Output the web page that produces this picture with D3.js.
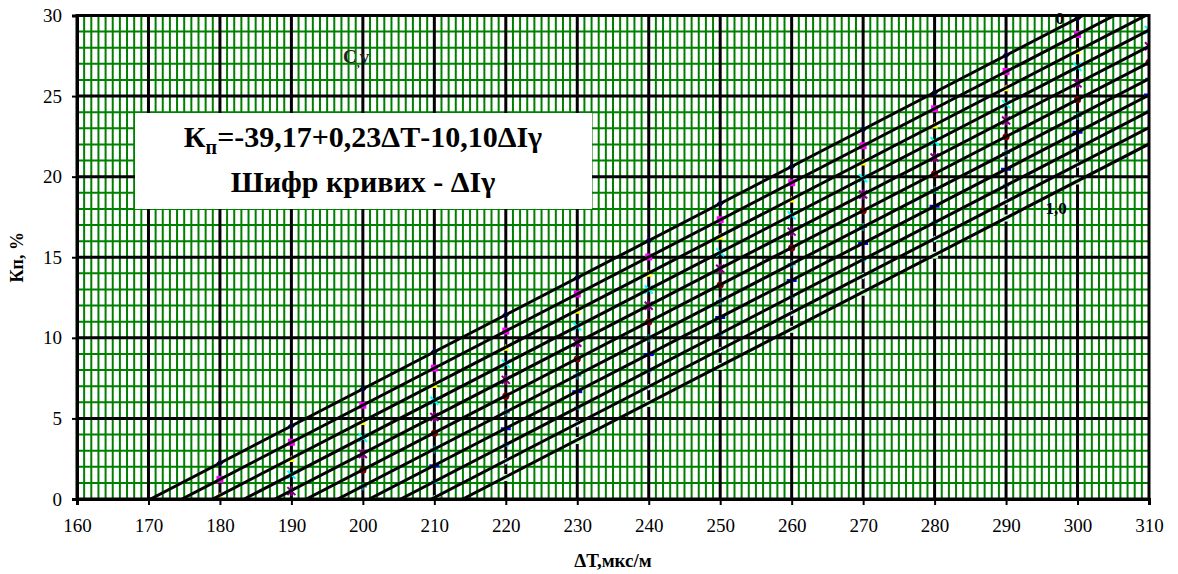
<!DOCTYPE html>
<html>
<head>
<meta charset="utf-8">
<script src="https://cdn.jsdelivr.net/npm/d3@7/dist/d3.min.js"></script>
<style>
  html, body { margin: 0; padding: 0; background: #fff; }
  svg { display: block; }
  svg text { font-family: 'Liberation Serif', 'Times New Roman', 'DejaVu Serif', serif; }
</style>
</head>
<body>
<svg id="chart" width="1178" height="574"></svg>
<script>
// Kп vs ΔT nomogram, one line per ΔIγ value

var curveNames = ['0', '0,1', '0,2', '0,3', '0,4', '0,5', '0,6', '0,7', '0,8', '0,9', '1,0'];
var xTicks = [160, 170, 180, 190, 200, 210, 220, 230, 240, 250, 260, 270, 280, 290, 300, 310];
var yTicks = [0, 5, 10, 15, 20, 25, 30];
var markerX = [180, 190, 200, 210, 220, 230, 240, 250, 260, 270, 280, 290, 300, 310];

// Kп values at markerX for each curve
var curveValues = [
  [2.23, 4.53, 6.83, 9.13, 11.43, 13.73, 16.03, 18.33, 20.63, 22.93, 25.23, 27.53, 29.83, 32.13],
  [1.22, 3.52, 5.82, 8.12, 10.42, 12.72, 15.02, 17.32, 19.62, 21.92, 24.22, 26.52, 28.82, 31.12],
  [0.21, 2.51, 4.81, 7.11, 9.41, 11.71, 14.01, 16.31, 18.61, 20.91, 23.21, 25.51, 27.81, 30.11],
  [-0.80, 1.50, 3.80, 6.10, 8.40, 10.70, 13.00, 15.30, 17.60, 19.90, 22.20, 24.50, 26.80, 29.10],
  [-1.81, 0.49, 2.79, 5.09, 7.39, 9.69, 11.99, 14.29, 16.59, 18.89, 21.19, 23.49, 25.79, 28.09],
  [-2.82, -0.52, 1.78, 4.08, 6.38, 8.68, 10.98, 13.28, 15.58, 17.88, 20.18, 22.48, 24.78, 27.08],
  [-3.83, -1.53, 0.77, 3.07, 5.37, 7.67, 9.97, 12.27, 14.57, 16.87, 19.17, 21.47, 23.77, 26.07],
  [-4.84, -2.54, -0.24, 2.06, 4.36, 6.66, 8.96, 11.26, 13.56, 15.86, 18.16, 20.46, 22.76, 25.06],
  [-5.85, -3.55, -1.25, 1.05, 3.35, 5.65, 7.95, 10.25, 12.55, 14.85, 17.15, 19.45, 21.75, 24.05],
  [-6.86, -4.56, -2.26, 0.04, 2.34, 4.64, 6.94, 9.24, 11.54, 13.84, 16.14, 18.44, 20.74, 23.04],
  [-7.87, -5.57, -3.27, -0.97, 1.33, 3.63, 5.93, 8.23, 10.53, 12.83, 15.13, 17.43, 19.73, 22.03]
];
// ΔT where each line crosses Kп = 0
var zeroCrossing = [170.3, 174.7, 179.0, 183.4, 187.7, 192.1, 196.5, 200.9, 205.3, 209.6, 214.0];

var markerColors = ['#000080', '#FF00FF', '#FFFF00', '#00FFFF', '#800080', '#800000',
                    '#008080', '#0000FF', '#00CCFF', '#CCFFFF', '#CCFFCC'];
var markerShapes = ['diamond', 'square', 'triangle', 'x', 'star', 'circle',
                    'plus', 'dash', 'shortdash', 'diamond', 'square'];

var SERIF = "'Liberation Serif', 'Times New Roman', 'DejaVu Serif', serif";
var L = 77, R = 1149, T = 15.5, B = 499;

var svg = d3.select('#chart');
var x = d3.scaleLinear().domain([160, 310]).range([L, R]);
var y = d3.scaleLinear().domain([0, 30]).range([B, T]);

svg.append('defs').append('clipPath').attr('id', 'plotClip')
  .append('rect').attr('x', L).attr('y', T).attr('width', R - L).attr('height', B - T);

// plot background
svg.append('rect').attr('x', L).attr('y', T).attr('width', R - L).attr('height', B - T)
  .attr('fill', '#fff');

var grid = svg.append('g');

// minor grid (green), every 1 unit
var minorX = d3.range(161, 310, 1).filter(function(v){ return v % 10 !== 0; });
var minorY = d3.range(1, 30, 1).filter(function(v){ return v % 5 !== 0; });
grid.selectAll('.mx').data(minorX).enter().append('line')
  .attr('x1', function(d){ return x(d); }).attr('x2', function(d){ return x(d); })
  .attr('y1', T).attr('y2', B)
  .attr('stroke', '#008000').attr('stroke-width', 2);
grid.selectAll('.my').data(minorY).enter().append('line')
  .attr('y1', function(d){ return y(d); }).attr('y2', function(d){ return y(d); })
  .attr('x1', L).attr('x2', R)
  .attr('stroke', '#008000').attr('stroke-width', 2);

// major grid (black)
grid.selectAll('.Mx').data(xTicks.slice(1, -1)).enter().append('line')
  .attr('x1', function(d){ return x(d); }).attr('x2', function(d){ return x(d); })
  .attr('y1', T).attr('y2', B)
  .attr('stroke', '#000').attr('stroke-width', 3);
grid.selectAll('.My').data(yTicks.slice(1, -1)).enter().append('line')
  .attr('y1', function(d){ return y(d); }).attr('y2', function(d){ return y(d); })
  .attr('x1', L).attr('x2', R)
  .attr('stroke', '#000').attr('stroke-width', 3);

// markers
function markerPath(shape){
  var s = 3.5;
  switch(shape){
    case 'diamond': return 'M0,' + (-s) + 'L' + s + ',0L0,' + s + 'L' + (-s) + ',0Z';
    case 'square': return 'M' + (-s) + ',' + (-s) + 'h' + (2 * s) + 'v' + (2 * s) + 'h' + (-2 * s) + 'Z';
    case 'triangle': return 'M0,' + (-s) + 'L' + s + ',' + s + 'L' + (-s) + ',' + s + 'Z';
    case 'circle': return d3.symbol().type(d3.symbolCircle).size(40)();
    default: return '';
  }
}

var markerG = svg.append('g').attr('clip-path', 'url(#plotClip)');
curveValues.forEach(function(vals, k){
  var pts = markerX.map(function(xv, i){ return { x: xv, y: vals[i] }; })
    .filter(function(p){ return p.y >= 0 && p.y <= 30; });
  var shape = markerShapes[k], col = markerColors[k];
  var g = markerG.append('g');
  var sel = g.selectAll('g').data(pts).enter().append('g')
    .attr('transform', function(p){ return 'translate(' + x(p.x) + ',' + y(p.y) + ')'; });
  if(shape === 'x' || shape === 'star'){
    sel.append('path').attr('d', 'M-4,-4L4,4M-4,4L4,-4' + (shape === 'star' ? 'M0,-5V5' : ''))
      .attr('stroke', col).attr('stroke-width', 2).attr('fill', 'none');
  } else if(shape === 'plus'){
    sel.append('path').attr('d', 'M-4,0H4M0,-4V4')
      .attr('stroke', col).attr('stroke-width', 2).attr('fill', 'none');
  } else if(shape === 'dash' || shape === 'shortdash'){
    var w = shape === 'dash' ? 5 : 3;
    sel.append('path').attr('d', 'M' + (-w) + ',0H' + w)
      .attr('stroke', col).attr('stroke-width', 3).attr('fill', 'none');
  } else {
    sel.append('path').attr('d', markerPath(shape)).attr('fill', col);
  }
});

// curve lines
var lineG = svg.append('g').attr('clip-path', 'url(#plotClip)');
lineG.selectAll('line.curve').data(curveValues).enter().append('line')
  .attr('class', 'curve')
  .attr('x1', function(d, k){ return x(zeroCrossing[k]); })
  .attr('y1', y(0))
  .attr('x2', x(markerX[markerX.length - 1]))
  .attr('y2', function(d){ return y(d[d.length - 1]); })
  .attr('stroke', '#000').attr('stroke-width', 3);

// frame
svg.append('rect').attr('x', L).attr('y', T).attr('width', R - L).attr('height', B - T)
  .attr('fill', 'none').attr('stroke', '#000').attr('stroke-width', 3);

// axes
var xAxis = svg.append('g').attr('transform', 'translate(0,' + B + ')')
  .call(d3.axisBottom(x).tickValues(xTicks).tickSize(6).tickPadding(14).tickFormat(d3.format('d')));
var yAxis = svg.append('g').attr('transform', 'translate(' + L + ',0)')
  .call(d3.axisLeft(y).tickValues(yTicks).tickSize(5).tickPadding(10).tickFormat(d3.format('d')));
[xAxis, yAxis].forEach(function(a){
  a.attr('font-family', SERIF).attr('font-size', 19);
  a.select('.domain').attr('stroke', '#000').attr('stroke-width', 3);
  a.selectAll('.tick line').attr('stroke', '#000').attr('stroke-width', 2);
  a.selectAll('.tick text').attr('fill', '#000');
});

function label(px, py, txt, size, anchor){
  return svg.append('text').attr('x', px).attr('y', py)
    .attr('text-anchor', anchor || 'middle')
    .attr('font-family', SERIF).attr('font-weight', 'bold').attr('font-size', size)
    .text(txt);
}

// axis titles
label((L + R) / 2, 567, 'ΔТ,мкс/м', 19);
svg.append('text').attr('transform', 'translate(23,' + ((T + B) / 2) + ') rotate(-90)')
  .attr('text-anchor', 'middle').attr('font-family', SERIF)
  .attr('font-weight', 'bold').attr('font-size', 18).text('Кп, %');

// equation box
svg.append('rect').attr('x', 135).attr('y', 113).attr('width', 457).attr('height', 96).attr('fill', '#fff');
var eq = label(363, 147, '', 30);
eq.append('tspan').text('К');
eq.append('tspan').attr('dy', 7).attr('font-size', 20).text('п');
eq.append('tspan').attr('dy', -7).text('=-39,17+0,23ΔТ-10,10ΔIγ');
label(363, 192, 'Шифр кривих - ΔIγ', 30);

// small labels
var cv = label(343, 63, '', 19, 'start').attr('fill', '#222');
cv.append('tspan').text('C');
cv.append('tspan').attr('dy', 4).attr('font-size', 12).text(',');
cv.append('tspan').attr('dy', -4).text('v');

label(x(297.5), 24, curveNames[0], 17);
label(x(297), 214, curveNames[curveNames.length - 1], 17);
</script>
</body>
</html>
